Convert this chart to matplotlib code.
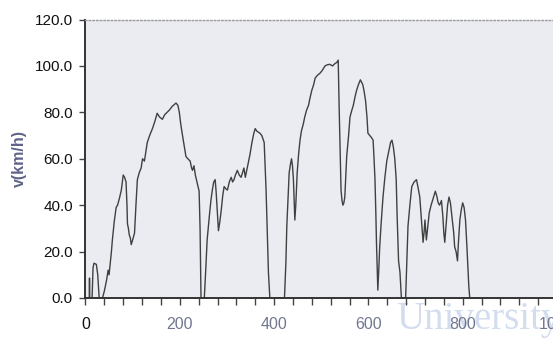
"""
speed_profile.py  --  recorded drive cycle: vehicle speed against time
"""

import matplotlib

matplotlib.use("Agg")
import matplotlib.pyplot as plt
from matplotlib.ticker import MultipleLocator, FormatStrFormatter

# time (s) and speed (km/h) samples of the cycle
time_s = [
    0, 5, 8, 8.5, 9, 14, 16, 18, 23, 26, 29, 36, 40, 45, 48, 50, 52, 55, 57, 61,
    65, 68, 72, 76, 80, 83, 86, 88, 89, 91, 93, 95, 97, 100, 104, 107, 110, 114,
    118, 121, 125, 128, 131, 136, 142, 147, 152, 157, 163, 168, 173, 178, 184,
    192, 196, 199, 202, 205, 209, 213, 217, 222, 225, 227, 230, 233, 237, 241,
    243, 245, 252, 255, 258, 263, 266, 269, 272, 275, 277, 279, 282, 285, 288,
    291, 294, 298, 301, 305, 309, 312, 315, 318, 322, 326, 330, 333, 336, 339,
    342, 345, 349, 353, 357, 360, 363, 366, 370, 374, 379, 383, 386, 388, 391,
    422, 425, 427, 430, 432, 435, 437, 439, 441, 443, 444, 446, 449, 452, 455,
    458, 462, 465, 469, 473, 476, 480, 484, 487, 492, 497, 502, 508, 513, 518,
    524, 529, 533, 536, 538, 540, 542, 544, 546, 548, 550, 552, 554, 558, 561,
    565, 568, 572, 575, 579, 583, 588, 591, 594, 597, 599, 603, 607, 610, 612,
    614, 616, 617, 619, 620, 622, 624, 627, 631, 635, 639, 643, 647, 650, 653,
    656, 659, 661, 664, 667, 670, 679, 682, 684, 688, 692, 697, 702, 705, 709,
    712, 714, 716, 718, 720, 722, 723, 726, 729, 733, 736, 739, 742, 745, 748,
    751, 755, 758, 760, 762, 765, 768, 771, 774, 778, 781, 783, 786, 789, 791,
    794, 797, 800, 803, 806, 809, 811, 813, 815, 830,
]
speed_kmh = [
    0, 0, 0, 8.6, 0, 0, 13, 15, 14.5, 10, 0, 0, 3, 8, 12, 10, 14, 20, 25, 33,
    39, 40, 43, 46.5, 53, 52, 50, 40, 32, 30, 27, 26, 23, 25, 28, 40, 51, 54,
    56, 60, 59, 63, 67, 70, 73, 76, 79.6, 78, 77, 79, 80, 81, 82.6,
    84, 83, 80, 75, 71, 66, 61, 60, 59, 56, 55, 57, 53, 49.5, 46,
    30, 0, 0, 12, 25, 36, 42, 46.5, 50, 51, 46, 39, 29, 33, 38,
    44, 48, 47, 46.5, 50, 52, 50, 51, 53, 55, 53, 52, 54, 56, 52,
    55, 58, 62, 67, 71, 73, 72, 71.5, 71, 70, 67, 46.5, 25, 11, 0,
    0, 15, 31, 45, 54, 58, 60, 57, 51, 40, 33.6, 40, 54, 62, 68,
    72, 75, 78, 81, 83, 86, 89.5, 92, 94.7, 96, 96.8, 98, 100, 100.5, 100.7,
    100, 101, 101.5, 102.5, 82, 65, 46.5, 42, 40, 41, 43.5, 52, 61, 70, 78,
    81, 83, 87, 89.5, 92, 94, 92, 89, 85, 78, 71, 70, 69, 68, 60,
    51, 35, 25, 10, 3.4, 12, 22, 32, 43.5, 52, 59, 63, 67, 68, 65,
    60, 51, 35, 16, 11, 0, 0, 18, 31, 40, 48, 50, 51, 48, 43.5,
    35, 29, 24, 28, 33.6, 28, 25, 31, 36.6, 40, 42, 44, 46, 44, 41,
    40, 42, 35, 28, 24, 32, 40, 43.5, 41, 33.6, 28, 22, 20, 16, 24,
    33.6, 38, 41, 39, 33.6, 22, 13, 5, 0, 0,
]

y_ticks = [0, 20, 40, 60, 80, 100, 120]
x_labels = ["0", "200", "400", "600", "800", "1000"]

plt.rcParams["font.family"] = ["Liberation Sans", "DejaVu Sans"]

fig = plt.figure(figsize=(5.53, 3.41), dpi=100)
# the plot runs a little past the right edge of the figure
ax = fig.add_axes([0.1546, 0.1261, 0.8526, 0.8167])
ax.set_facecolor("#eaecf1")

ax.plot(time_s, speed_kmh, color="#404040", linewidth=1.0)

ax.set_xlim(0, 1000)
ax.set_ylim(0, 120)
ax.set_yticks(y_ticks)
ax.yaxis.set_major_formatter(FormatStrFormatter("%.1f"))
ax.set_xticks(range(0, 1001, 200))
ax.set_xticklabels(x_labels)
ax.xaxis.set_minor_locator(MultipleLocator(40))

ax.tick_params(axis="y", direction="out", length=4, width=1, color="#444444",
               labelsize=11, pad=5, labelcolor="#111111")
ax.tick_params(axis="x", which="both", direction="out", length=5, width=1,
               color="#444444")
ax.tick_params(axis="x", which="major", labelsize=11.5, pad=9,
               labelcolor="#727790")
ax.get_xticklabels()[0].set_color("#111111")

for side in ("left", "bottom"):
    ax.spines[side].set_color("#333333")
    ax.spines[side].set_linewidth(1.4)
ax.spines["top"].set_color("#9a9a9a")
ax.spines["top"].set_linestyle(":")
ax.spines["top"].set_linewidth(1.0)
ax.spines["right"].set_visible(False)

ax.set_ylabel("v(km/h)", fontsize=11.5, fontweight="bold", color="#5f6488",
              labelpad=6)

# faint repository watermark along the bottom edge, behind everything
fig.text(0.716, 0.035, "University", fontsize=28, family="Liberation Serif",
         color="#d3ddee", zorder=-1)

fig.savefig("out.png", dpi=100)
plt.close(fig)
